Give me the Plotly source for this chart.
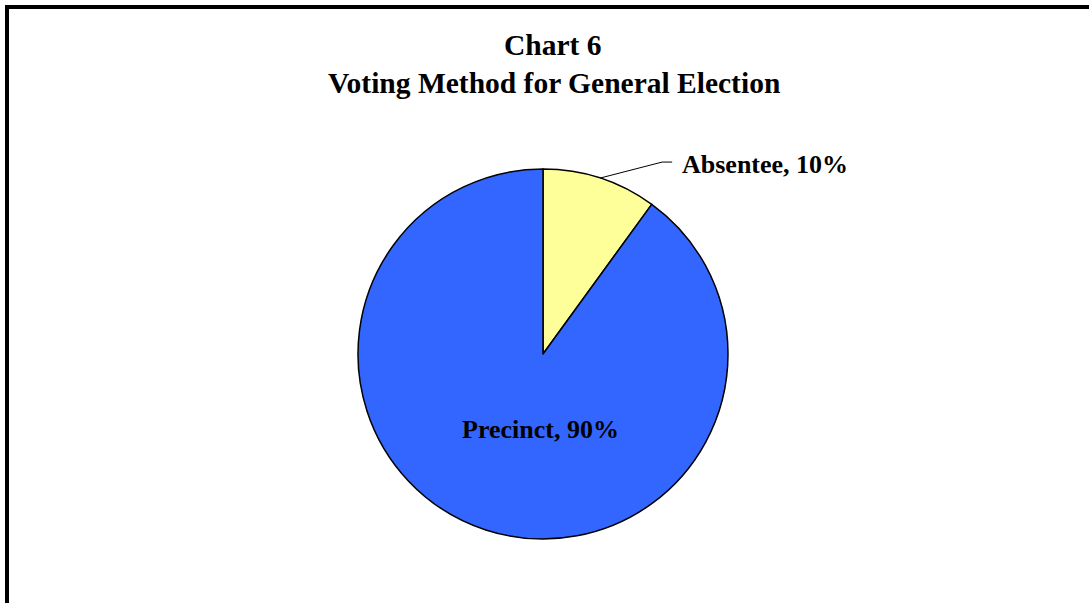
import math
import plotly.graph_objects as go

# Voting method shares, general election
methods = ["Absentee", "Precinct"]
shares = [10, 90]
colors = ["#FFFF99", "#3366FF"]

title_line1 = "Chart 6"
title_line2 = "Voting Method for General Election"

W, H = 1089, 603
cx, cy, r = 543, 354, 185  # pie centre and radius in pixels


def px(x):
    return x / W


def py(y):
    return 1 - y / H


fig = go.Figure(
    go.Pie(
        labels=methods,
        values=shares,
        sort=False,
        direction="clockwise",
        rotation=0,
        marker=dict(colors=colors, line=dict(color="black", width=1.5)),
        textinfo="none",
        hoverinfo="label+percent",
        domain=dict(x=[px(cx - r), px(cx + r)], y=[py(cy + r), py(cy - r)]),
        showlegend=False,
    )
)

# mid-angle of each slice, measured clockwise from 12 o'clock
total = sum(shares)
mids = []
start = 0.0
for v in shares:
    span = 360.0 * v / total
    mids.append(start + span / 2)
    start += span

font = "Liberation Serif, Times New Roman, serif"

# Absentee label: outside with a leader line
a = math.radians(mids[0])
x0, y0 = cx + r * math.sin(a), cy - r * math.cos(a)
x1, y1 = x0 + 62, y0 - 16
x2 = x1 + 10
fig.add_shape(type="path", xref="paper", yref="paper",
              path=f"M {px(x0)},{py(y0)} L {px(x1)},{py(y1)} L {px(x2)},{py(y1)}",
              line=dict(color="black", width=1))
fig.add_annotation(x=px(x2 + 8), y=py(y1 + 2), xref="paper", yref="paper",
                   text=f"<b>{methods[0]}, {shares[0]}%</b>", showarrow=False,
                   xanchor="left", yanchor="middle",
                   font=dict(family=font, size=26, color="black"))

# Precinct label: inside the slice
b = math.radians(mids[1])
d = 0.43 * r
lx, ly = cx + d * math.sin(b) + 22, cy - d * math.cos(b)
fig.add_annotation(x=px(lx), y=py(ly), xref="paper", yref="paper",
                   text=f"<b>{methods[1]}, {shares[1]}%</b>", showarrow=False,
                   xanchor="center", yanchor="middle",
                   font=dict(family=font, size=26, color="black"))

# Title, two lines
fig.add_annotation(x=px(553), y=py(45), xref="paper", yref="paper",
                   text=f"<b>{title_line1}</b>", showarrow=False,
                   xanchor="center", yanchor="middle",
                   font=dict(family=font, size=29.5, color="black"))
fig.add_annotation(x=px(554), y=py(83), xref="paper", yref="paper",
                   text=f"<b>{title_line2}</b>", showarrow=False,
                   xanchor="center", yanchor="middle",
                   font=dict(family=font, size=29.5, color="black"))

# Chart frame (top and left edges visible)
fig.add_shape(type="rect", xref="paper", yref="paper",
              x0=px(7), y0=-0.2, x1=1.2, y1=py(7),
              line=dict(color="black", width=4))

fig.update_layout(
    width=W, height=H,
    margin=dict(l=0, r=0, t=0, b=0),
    paper_bgcolor="white",
    plot_bgcolor="white",
)

fig.write_html("out.html")
